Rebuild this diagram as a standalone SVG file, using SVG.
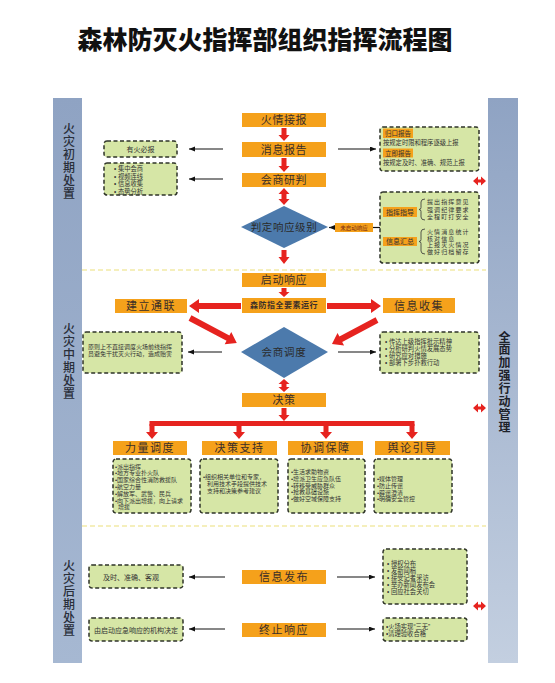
<svg xmlns="http://www.w3.org/2000/svg" width="555" height="683" viewBox="0 0 555 683">
<defs>
<linearGradient id="barL" x1="0" y1="0" x2="0" y2="1"><stop offset="0" stop-color="#8fa3c3"/><stop offset="1" stop-color="#a6b8d2"/></linearGradient>
<linearGradient id="barR" x1="0" y1="0" x2="0" y2="1"><stop offset="0" stop-color="#8fa3c3"/><stop offset="1" stop-color="#c3cfe0"/></linearGradient>
<marker id="ah" markerUnits="userSpaceOnUse" markerWidth="7" markerHeight="6" refX="6" refY="2.5" orient="auto"><path d="M0,0 L6,2.5 L0,5 z" fill="#111"/></marker>
<style>
text{font-family:"Liberation Sans","Noto Sans CJK SC",sans-serif}
.title{font-family:"Liberation Serif","Noto Sans CJK SC",serif;font-size:25px;font-weight:900;fill:#111;text-anchor:middle;dominant-baseline:central}
.side{font-size:12px;fill:#2a2f3a;font-weight:500;writing-mode:vertical-rl;letter-spacing:1px}
.sideR{font-size:12px;fill:#1e222a;font-weight:700;writing-mode:vertical-rl;letter-spacing:0.86px}
.ob{fill:#f5a11b}
.lbl{font-size:11px;fill:#3a2e28;text-anchor:middle;dominant-baseline:central;letter-spacing:0.6px}
.lbl2{font-size:11px;fill:#3a2e28;text-anchor:middle;dominant-baseline:central;letter-spacing:1.5px}
.gb{fill:#d6e6a6;stroke:#2e3328;stroke-width:1.5;stroke-dasharray:4 2.5}
.t7{font-size:7px;fill:#333;dominant-baseline:central}
.t6{font-size:6px;fill:#333}
.t65{font-size:6.3px;fill:#333}
.tb{font-size:6px;fill:#333;letter-spacing:1.1px}
.sl{font-size:6.5px;fill:#333;text-anchor:middle;dominant-baseline:central}
.dia{fill:#4c7aac}
.red{fill:#e6231f}
.blk{stroke:#111;stroke-width:1.2;fill:none}
.arr{stroke:#111;stroke-width:1.2;fill:none;marker-end:url(#ah)}
.sep{stroke:#ece07a;stroke-width:1.2;stroke-dasharray:5 3;fill:none}
.brace{stroke:#333;stroke-width:0.8;fill:none}
</style>
</defs>
<rect width="555" height="683" fill="#ffffff"/>
<text class="title" x="265" y="40">森林防灭火指挥部组织指挥流程图</text>

<g id="left-bar">
<rect x="53" y="98" width="29" height="565" fill="url(#barL)"/>
<text class="side" x="67.5" y="122">火灾初期处置</text>
<text class="side" x="67.5" y="322">火灾中期处置</text>
<text class="side" x="67.5" y="559">火灾后期处置</text>
</g>
<g id="right-bar">
<rect x="488" y="98" width="30" height="565" fill="url(#barR)"/>
<text class="sideR" x="503" y="331">全面加强行动管理</text>
</g>

<g id="separators">
<line class="sep" x1="82" y1="270" x2="486" y2="270"/>
<line class="sep" x1="82" y1="526" x2="486" y2="526"/>
</g>

<!-- top section -->
<g id="n-huoqing"><rect class="ob" x="242" y="113" width="84" height="14"/><text class="lbl" x="284" y="120">火情接报</text></g>
<g id="n-xiaoxi"><rect class="ob" x="242" y="142" width="84" height="15"/><text class="lbl" x="284" y="149.5">消息报告</text></g>
<g id="n-huishang"><rect class="ob" x="242" y="173" width="84" height="14"/><text class="lbl" x="284" y="180">会商研判</text></g>
<g id="n-panding"><polygon class="dia" points="241,227 284,206 328,227 284,248"/><text class="lbl" x="284" y="227" style="font-size:10.5px;fill:#2a2a2a">判定响应级别</text></g>
<g id="n-weiqidong"><rect class="ob" x="335" y="223" width="38" height="9"/><text x="354" y="227.5" style="font-size:5.5px;fill:#7a2a10;text-anchor:middle;dominant-baseline:central">未启动响应</text></g>

<g id="n-youhuo"><rect class="gb" x="104" y="141" width="73" height="16" rx="3"/><text class="t7" x="140.5" y="149" text-anchor="middle">有火必报</text></g>
<g id="n-jizhong"><rect class="gb" x="104" y="163" width="73" height="32" rx="3"/>
<text class="t65"><tspan x="114" y="171.3">• 集中会商</tspan><tspan x="114" y="178.8">• 视频连线</tspan><tspan x="114" y="186.3">• 信息收集</tspan><tspan x="114" y="193.8">• 态势分析</tspan></text></g>

<g id="n-baogao"><rect class="gb" x="380" y="127" width="99" height="44" rx="3"/>
<rect class="ob" x="383" y="128.5" width="30" height="9.5"/><text class="sl" x="398" y="133.3">归口报告</text>
<text class="t65" x="383" y="145.3">按规定时限和程序逐级上报</text>
<rect class="ob" x="383" y="148.5" width="30" height="9"/><text class="sl" x="398" y="153">立即报告</text>
<text class="t65" x="383" y="165.3">按规定及时、准确、规范上报</text></g>

<g id="n-zhihui"><rect class="gb" x="380" y="192" width="99" height="71" rx="3"/>
<rect class="ob" x="383" y="207" width="34" height="10"/><text class="sl" x="400" y="212" style="font-size:7px">指挥指导</text>
<path class="brace" d="M425,199 Q421,199 421,202 L421,207.5 Q421,209.5 419,209.5 Q421,209.5 421,211.5 L421,217 Q421,220 425,220"/>
<text class="tb"><tspan x="427" y="204">提出指挥意见</tspan><tspan x="427" y="211.5">强调纪律要求</tspan><tspan x="427" y="219">全程盯打安全</tspan></text>
<rect class="ob" x="383" y="237" width="34" height="9"/><text class="sl" x="400" y="241.5" style="font-size:7px">信息汇总</text>
<path class="brace" d="M425,229 Q421,229 421,232 L421,239.5 Q421,241.5 419,241.5 Q421,241.5 421,243.5 L421,251 Q421,254 425,254"/>
<text class="tb"><tspan x="427" y="233.8">火情消息统计</tspan><tspan x="427" y="240.6">核对信息</tspan><tspan x="427" y="247.4">上报灭火情况</tspan><tspan x="427" y="254.2">做好归档留存</tspan></text></g>

<!-- middle section -->
<g id="n-qidong"><rect class="ob" x="242" y="273" width="84" height="14"/><text class="lbl" x="284" y="280">启动响应</text></g>
<g id="n-senfang"><rect class="ob" x="242" y="298" width="84" height="15"/><text x="284" y="305.5" style="font-size:8px;font-weight:700;fill:#3a2e28;text-anchor:middle;dominant-baseline:central;letter-spacing:0.5px">森防指全要素运行</text></g>
<g id="n-jianli"><rect class="ob" x="115" y="299" width="72" height="14"/><text class="lbl2" x="151" y="306">建立通联</text></g>
<g id="n-xinxi"><rect class="ob" x="383" y="298" width="72" height="15"/><text class="lbl2" x="419" y="305.5">信息收集</text></g>
<g id="n-diaodu"><polygon class="dia" points="241,352 284,327 328,352 284,378"/><text class="lbl" x="284" y="352" style="font-size:10.5px;fill:#2a2a2a;letter-spacing:0.8px">会商调度</text></g>
<g id="n-yuanze"><rect class="gb" x="83" y="332" width="99" height="41" rx="3"/>
<text class="t6"><tspan x="88" y="349">原则上不直接调度火场前线指挥</tspan><tspan x="88" y="356">员避免干扰灭火行动，造成贻害</tspan></text></g>
<g id="n-chuanda"><rect class="gb" x="380" y="332" width="99" height="41" rx="3"/>
<text class="t65"><tspan x="385" y="344.2">• 传达上级指挥批示精神</tspan><tspan x="385" y="351.2">• 分析研判火情发展态势</tspan><tspan x="385" y="358.2">• 研究应对措施</tspan><tspan x="385" y="365.2">• 部署下步扑救行动</tspan></text></g>
<g id="n-juece"><rect class="ob" x="242" y="393" width="84" height="14"/><text class="lbl" x="284" y="400">决策</text></g>

<g id="n-liliang"><rect class="ob" x="113" y="441" width="74" height="14"/><text class="lbl2" x="150" y="448">力量调度</text></g>
<g id="n-juecezc"><rect class="ob" x="202" y="441" width="75" height="14"/><text class="lbl2" x="239.5" y="448">决策支持</text></g>
<g id="n-xietiao"><rect class="ob" x="288" y="441" width="75" height="14"/><text class="lbl2" x="325.5" y="448">协调保障</text></g>
<g id="n-yulun"><rect class="ob" x="375" y="441" width="75" height="14"/><text class="lbl2" x="412.5" y="448">舆论引导</text></g>

<g id="n-liliang-d"><rect class="gb" x="113" y="459" width="78" height="54" rx="3"/>
<text class="t6"><tspan x="115" y="468.5">•派出指挥</tspan><tspan x="115" y="475.3">•地方专业扑火队</tspan><tspan x="115" y="482.1">•国家综合性消防救援队</tspan><tspan x="115" y="488.9">•航空力量</tspan><tspan x="115" y="495.7">•解放军、武警、民兵</tspan><tspan x="115" y="502.5">•向下派出增援，向上请求</tspan><tspan x="118" y="509.3">增援</tspan></text></g>
<g id="n-juecezc-d"><rect class="gb" x="200" y="459" width="78" height="54" rx="3"/>
<text class="t6"><tspan x="203" y="479">•组织相关单位和专家，</tspan><tspan x="207" y="486">利用技术手段提供技术</tspan><tspan x="207" y="493">支持和决策参考建议</tspan></text></g>
<g id="n-xietiao-d"><rect class="gb" x="288" y="459" width="77" height="54" rx="3"/>
<text class="t6"><tspan x="291" y="474">•生活求助物资</tspan><tspan x="291" y="480.8">•增派卫生应急队伍</tspan><tspan x="291" y="487.6">•转移受威胁群众</tspan><tspan x="291" y="494.4">•抢救基础设施</tspan><tspan x="291" y="501.2">•做好空域保障支持</tspan></text></g>
<g id="n-yulun-d"><rect class="gb" x="374" y="459" width="78" height="54" rx="3"/>
<text class="t6"><tspan x="377" y="481">•媒体管理</tspan><tspan x="377" y="487.8">•防止传谣</tspan><tspan x="377" y="494.6">•辟谣澄清</tspan><tspan x="377" y="501.4">•明确安全管控</tspan></text></g>

<!-- bottom section -->
<g id="n-fabu"><rect class="ob" x="242" y="570" width="84" height="14"/><text class="lbl2" x="284" y="577">信息发布</text></g>
<g id="n-zhongzhi"><rect class="ob" x="242" y="623" width="84" height="14"/><text class="lbl2" x="284" y="630">终止响应</text></g>
<g id="n-jishi"><rect class="gb" x="89" y="565" width="94" height="23" rx="3"/><text class="t7" x="103" y="577">及时、准确、客观</text></g>
<g id="n-youqidong"><rect class="gb" x="89" y="618" width="94" height="23" rx="3"/><text class="t7" x="136" y="630" text-anchor="middle">由启动应急响应的机构决定</text></g>
<g id="n-shouquan"><rect class="gb" x="383" y="549" width="84" height="55" rx="3"/>
<text class="t65"><tspan x="387" y="566">• 授权分布</tspan><tspan x="387" y="573">• 发新闻稿</tspan><tspan x="387" y="580">• 接受记者采访</tspan><tspan x="387" y="587">• 举办新闻发布会</tspan><tspan x="387" y="594">• 回应社会关切</tspan></text></g>
<g id="n-huochang"><rect class="gb" x="383" y="618" width="84" height="23" rx="3"/>
<text class="t65"><tspan x="386" y="629">•火场实现“三无”</tspan><tspan x="386" y="636.2">•清理验收合格</tspan></text></g>

<g id="connectors">
<polygon class="red" points="281.5,128 286.5,128 286.5,135 289.5,135 284,141 278.5,135 281.5,135"/>
<polygon class="red" points="281.5,158 286.5,158 286.5,166 289.5,166 284,172 278.5,166 281.5,166"/>
<polygon class="red" points="284,188 289.5,194 286.5,194 286.5,199 289.5,199 284,205 278.5,199 281.5,199 281.5,194 278.5,194"/>
<polygon class="red" points="281.5,250 286.5,250 286.5,257 289.5,257 284,264 278.5,257 281.5,257"/>
<polygon class="red" points="281.5,288 286.5,288 286.5,292 289.5,292 284,297 278.5,292 281.5,292"/>
<polygon class="red" points="241,303 199,303 199,299 189,306 199,313 199,309 241,309"/>
<polygon class="red" points="327,303 371,303 371,299 381,306 371,313 371,309 327,309"/>
<polygon class="red" transform="translate(190,318) rotate(28)" points="0,-3 43,-3 43,-7 53,0 43,7 43,3 0,3"/>
<polygon class="red" transform="translate(377,320) rotate(152)" points="0,-3 41,-3 41,-7 51,0 41,7 41,3 0,3"/>
<polygon class="red" points="284,379 289.5,384 286.5,384 286.5,387 289.5,387 284,392 278.5,387 281.5,387 281.5,384 278.5,384"/>
<polygon class="red" points="281.5,408 286.5,408 286.5,415 289.5,415 284,421 278.5,415 281.5,415"/>
<rect class="red" x="149.5" y="421" width="265" height="5"/>
<polygon class="red" points="149.5,424 154.5,424 154.5,432 158,432 152,439 146,432 149.5,432"/>
<polygon class="red" points="236.5,424 241.5,424 241.5,432 245,432 239,439 233,432 236.5,432"/>
<polygon class="red" points="323.5,424 328.5,424 328.5,432 332,432 326,439 320,432 323.5,432"/>
<polygon class="red" points="409.5,424 414.5,424 414.5,432 418,432 412,439 406,432 409.5,432"/>
<polygon class="red" points="473,181 478,176.5 478,179.5 481,179.5 481,176.5 486,181 481,185.5 481,182.5 478,182.5 478,185.5"/>
<polygon class="red" points="473,408 478,403.5 478,406.5 481,406.5 481,403.5 486,408 481,412.5 481,409.5 478,409.5 478,412.5"/>
<polygon class="red" points="473,606 478,601.5 478,604.5 481,604.5 481,601.5 486,606 481,610.5 481,607.5 478,607.5 478,610.5"/>
<line class="arr" x1="223" y1="149" x2="189" y2="149"/>
<line class="arr" x1="223" y1="179" x2="189" y2="179"/>
<line class="arr" x1="338" y1="149" x2="376" y2="149"/>
<line class="blk" x1="380" y1="227.5" x2="373" y2="227.5"/>
<line class="arr" x1="335" y1="227.5" x2="329" y2="227.5"/>
<line class="arr" x1="222" y1="352" x2="188" y2="352"/>
<line class="arr" x1="338" y1="352" x2="376" y2="352"/>
<line class="arr" x1="225" y1="577" x2="189" y2="577"/>
<line class="arr" x1="225" y1="629" x2="189" y2="629"/>
<line class="arr" x1="337" y1="577" x2="375" y2="577"/>
<line class="arr" x1="337" y1="629" x2="375" y2="629"/>
</g>
</svg>
